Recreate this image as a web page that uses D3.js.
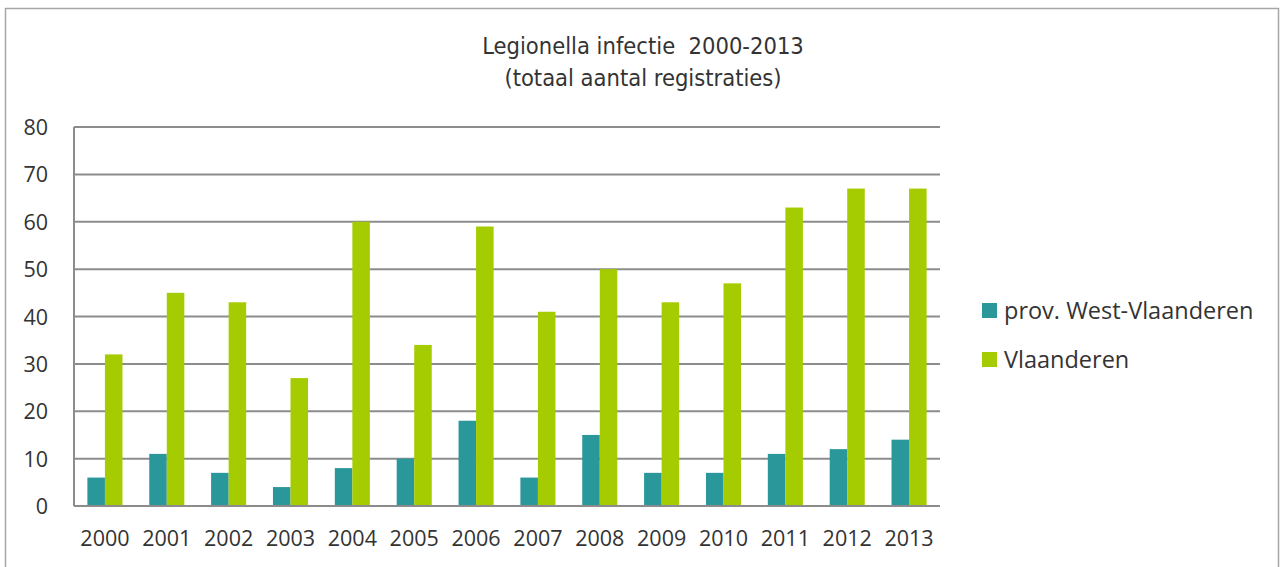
<!DOCTYPE html>
<html>
<head>
<meta charset="utf-8">
<title>Legionella infectie 2000-2013</title>
<script src="https://d3js.org/d3.v7.min.js"></script>
<style>
    html, body { margin: 0; padding: 0; background: white; overflow: hidden; }
    .tick text { font-family: "Open Sans", sans-serif; font-size: 21.5px; fill: #333; }
    .title { font-family: "DejaVu Sans Condensed", "Liberation Sans", sans-serif; font-stretch: condensed; font-size: 23.5px; fill: #333; white-space: pre; }
    .legend text { font-family: "Open Sans", sans-serif; font-size: 23.5px; fill: #333; }
</style>
</head>
<body>
<div id="graph"></div>
<script>
    // data
    var years = ["2000","2001","2002","2003","2004","2005","2006","2007","2008","2009","2010","2011","2012","2013"];
    var westVlaanderen = [6, 11, 7, 4, 8, 10, 18, 6, 15, 7, 7, 11, 12, 14];
    var vlaanderen = [32, 45, 43, 27, 60, 34, 59, 41, 50, 43, 47, 63, 67, 67];
    var seriesNames = ["prov. West-Vlaanderen", "Vlaanderen"];
    var seriesColors = ["#2a979b", "#a5cc00"];
    var yTicks = [0, 10, 20, 30, 40, 50, 60, 70, 80];

    var W = 1281, H = 567;
    var margin = {top: 127, left: 74, right: 341, bottom: 61};
    var width = W - margin.left - margin.right,
        height = H - margin.top - margin.bottom;

    var svg = d3.select("#graph").append("svg")
        .attr("width", W)
        .attr("height", H);

    // outer frame
    svg.append("rect")
        .attr("x", 5.5).attr("y", 8.5)
        .attr("width", 1273).attr("height", 570)
        .attr("fill", "none")
        .attr("stroke", "#a6a6a6")
        .attr("stroke-width", 1.5);

    svg.append("text").attr("class", "title")
        .attr("x", 643).attr("y", 54)
        .attr("text-anchor", "middle")
        .text("Legionella infectie  2000-2013");
    svg.append("text").attr("class", "title")
        .attr("x", 643).attr("y", 86)
        .attr("text-anchor", "middle")
        .text("(totaal aantal registraties)");

    var g = svg.append("g")
        .attr("transform", "translate(" + margin.left + "," + margin.top + ")");

    var y = d3.scaleLinear().domain([0, 80]).range([height, 0]);
    var x = d3.scaleBand().domain(years).range([0, width]).paddingInner(0.433).paddingOuter(0.2165);
    var xs = d3.scaleBand().domain([0, 1]).range([0, x.bandwidth()]);

    // gridlines
    g.append("g")
        .selectAll("line")
        .data(yTicks)
        .join("line")
        .attr("x1", 0).attr("x2", width)
        .attr("y1", function(d) { return y(d); })
        .attr("y2", function(d) { return y(d); })
        .attr("stroke", "#8c8c8c")
        .attr("stroke-width", 2);

    // y axis labels
    var yAxis = d3.axisLeft(y).tickValues(yTicks).tickSize(0).tickPadding(26);
    var yG = g.append("g").call(yAxis);
    yG.select(".domain").remove();
    yG.selectAll(".tick text").attr("dy", "0.35em");

    // x axis labels
    var xAxis = d3.axisBottom(x).tickSize(0).tickPadding(25);
    var xG = g.append("g").attr("transform", "translate(0," + height + ")").call(xAxis);
    xG.select(".domain").remove();

    var rows = years.map(function(yr, i) { return {year: yr, vals: [westVlaanderen[i], vlaanderen[i]]}; });

    g.append("g")
        .selectAll("g")
        .data(rows)
        .join("g")
        .attr("transform", function(d) { return "translate(" + x(d.year) + ",0)"; })
        .selectAll("rect")
        .data(function(d) { return d.vals.map(function(v, k) { return {k: k, v: v}; }); })
        .join("rect")
        .attr("x", function(d) { return xs(d.k); })
        .attr("width", xs.bandwidth())
        .attr("y", function(d) { return y(d.v); })
        .attr("height", function(d) { return height - y(d.v); })
        .attr("fill", function(d) { return seriesColors[d.k]; });

    // axis lines
    g.append("line")
        .attr("x1", 0).attr("x2", 0).attr("y1", 0).attr("y2", height)
        .attr("stroke", "#8c8c8c").attr("stroke-width", 2);
    g.append("line")
        .attr("x1", 0).attr("x2", width).attr("y1", height).attr("y2", height)
        .attr("stroke", "#8c8c8c").attr("stroke-width", 2);

    // legend
    var legend = svg.append("g").attr("class", "legend")
        .selectAll("g")
        .data(seriesNames)
        .join("g")
        .attr("transform", function(d, i) { return "translate(982," + (303 + i * 49) + ")"; });
    legend.append("rect")
        .attr("width", 15).attr("height", 15)
        .attr("fill", function(d, i) { return seriesColors[i]; });
    legend.append("text")
        .attr("x", 22).attr("y", 16)
        .text(function(d) { return d; });
</script>
</body>
</html>
